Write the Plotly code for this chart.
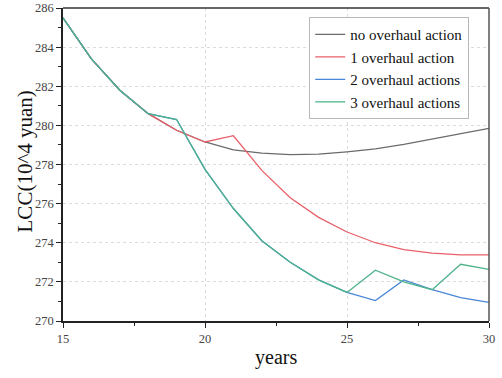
import plotly.graph_objects as go

years = list(range(15, 31))
no_overhaul = [285.5, 283.4, 281.8, 280.6, 279.75, 279.15, 278.75, 278.58, 278.5, 278.53, 278.65, 278.8, 279.03, 279.3, 279.55, 279.85]
one_overhaul = [285.5, 283.4, 281.8, 280.6, 279.75, 279.15, 279.47, 277.7, 276.3, 275.3, 274.55, 274.0, 273.65, 273.47, 273.38, 273.38]
two_overhaul = [285.5, 283.4, 281.8, 280.6, 280.3, 277.75, 275.75, 274.1, 273.0, 272.1, 271.46, 271.04, 272.1, 271.6, 271.2, 270.95]
three_overhaul = [285.5, 283.4, 281.8, 280.6, 280.3, 277.75, 275.75, 274.1, 273.0, 272.1, 271.46, 272.6, 272.0, 271.6, 272.9, 272.64]

series_names = ["no overhaul action", "1 overhaul action", "2 overhaul actions", "3 overhaul actions"]
series_values = [no_overhaul, one_overhaul, two_overhaul, three_overhaul]
colors = ["#6b6b6b", "#e8606a", "#4a86d8", "#4db38a"]

x_ticks = [15, 20, 25, 30]
y_ticks = [270, 272, 274, 276, 278, 280, 282, 284, 286]
x_title = "years"
y_title = "LCC(10^4 yuan)"

FF = "Liberation Serif, Times New Roman, serif"

fig = go.Figure()
for name, vals, c in zip(series_names, series_values, colors):
    fig.add_trace(go.Scatter(x=years, y=vals, mode="lines", name=name,
                             line=dict(color=c, width=1.3)))

fig.update_layout(
    width=502, height=378,
    margin=dict(l=63, r=13, t=8, b=57, autoexpand=False),
    paper_bgcolor="white", plot_bgcolor="white",
    font=dict(family=FF, color="#222"),
    showlegend=True,
    legend=dict(x=0.578, y=0.971, xanchor="left", yanchor="top",
                bgcolor="white", bordercolor="#b8b8b8", borderwidth=1,
                font=dict(family=FF, size=15, color="#111"),
                itemwidth=30, tracegroupgap=0, traceorder="normal"),
    xaxis=dict(range=[15, 30], tickvals=x_ticks, ticks="outside", ticklen=5,
               tickcolor="#222", showline=True, linecolor="#222", linewidth=1.5,
               showgrid=True, gridcolor="#dddddd", griddash="dot", gridwidth=1,
               zeroline=False, automargin=False,
               tickfont=dict(family=FF, size=12.5, color="#444"),
               minor=dict(tickvals=[17.5, 22.5, 27.5], ticks="outside", ticklen=3, tickcolor="#222", showgrid=False)),
    yaxis=dict(range=[270, 286], tickvals=y_ticks, ticks="outside", ticklen=5,
               tickcolor="#222", showline=True, linecolor="#222", linewidth=1.5,
               showgrid=True, gridcolor="#dddddd", griddash="dot", gridwidth=1,
               zeroline=False, automargin=False,
               tickfont=dict(family=FF, size=12.5, color="#444"),
               minor=dict(tickvals=[271, 273, 275, 277, 279, 281, 283, 285], ticks="outside", ticklen=3, tickcolor="#222", showgrid=False)),
)
fig.add_annotation(text=x_title, xref="paper", yref="paper", x=0.5, y=-0.118,
                   xanchor="center", yanchor="middle", showarrow=False,
                   font=dict(family=FF, size=20, color="#111"))
fig.add_annotation(text=y_title, xref="paper", yref="paper", x=-0.089, y=0.51,
                   xanchor="center", yanchor="middle", showarrow=False, textangle=-90,
                   font=dict(family=FF, size=21, color="#111"))
fig.add_shape(type="line", xref="paper", yref="paper", x0=0, x1=1, y0=1, y1=1,
              line=dict(color="#333", width=1.5))
fig.add_shape(type="line", xref="paper", yref="paper", x0=1, x1=1, y0=0, y1=1,
              line=dict(color="#555", width=1.5))

fig.write_html("out.html", config={"displayModeBar": False},
               post_script="document.body.style.margin='0';")
